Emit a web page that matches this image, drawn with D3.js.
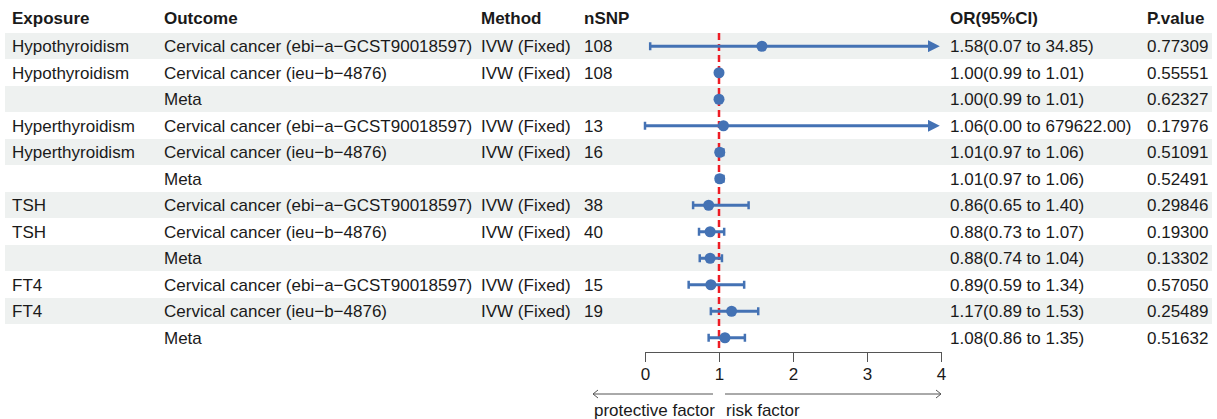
<!DOCTYPE html>
<html>
<head>
<meta charset="utf-8">
<script src="https://cdn.jsdelivr.net/npm/d3@7"></script>
<style>
  body { margin: 0; background: #fff; }
  svg { font-family: "Liberation Sans", Arial, sans-serif; }
</style>
</head>
<body>
<div id="chart"></div>
<script>
// Table columns, one entry per row
const exposures = ['Hypothyroidism', 'Hypothyroidism', '', 'Hyperthyroidism', 'Hyperthyroidism', '',
                   'TSH', 'TSH', '', 'FT4', 'FT4', ''];
const outcomes = ['Cervical cancer (ebi\u2212a\u2212GCST90018597)', 'Cervical cancer (ieu\u2212b\u22124876)', 'Meta',
                  'Cervical cancer (ebi\u2212a\u2212GCST90018597)', 'Cervical cancer (ieu\u2212b\u22124876)', 'Meta',
                  'Cervical cancer (ebi\u2212a\u2212GCST90018597)', 'Cervical cancer (ieu\u2212b\u22124876)', 'Meta',
                  'Cervical cancer (ebi\u2212a\u2212GCST90018597)', 'Cervical cancer (ieu\u2212b\u22124876)', 'Meta'];
const methods = ['IVW (Fixed)', 'IVW (Fixed)', '', 'IVW (Fixed)', 'IVW (Fixed)', '',
                 'IVW (Fixed)', 'IVW (Fixed)', '', 'IVW (Fixed)', 'IVW (Fixed)', ''];
const nsnp = ['108', '108', '', '13', '16', '', '38', '40', '', '15', '19', ''];
const orValues = [1.58, 1.00, 1.00, 1.06, 1.01, 1.01, 0.86, 0.88, 0.88, 0.89, 1.17, 1.08];
const lowerCI = [0.07, 0.99, 0.99, 0.00, 0.97, 0.97, 0.65, 0.73, 0.74, 0.59, 0.89, 0.86];
const upperCI = [34.85, 1.01, 1.01, 679622.00, 1.06, 1.06, 1.40, 1.07, 1.04, 1.34, 1.53, 1.35];
const orLabels = ['1.58(0.07 to 34.85)', '1.00(0.99 to 1.01)', '1.00(0.99 to 1.01)', '1.06(0.00 to 679622.00)',
                  '1.01(0.97 to 1.06)', '1.01(0.97 to 1.06)', '0.86(0.65 to 1.40)', '0.88(0.73 to 1.07)',
                  '0.88(0.74 to 1.04)', '0.89(0.59 to 1.34)', '1.17(0.89 to 1.53)', '1.08(0.86 to 1.35)'];
const pValues = ['0.77309', '0.55551', '0.62327', '0.17976', '0.51091', '0.52491',
                 '0.29846', '0.19300', '0.13302', '0.57050', '0.25489', '0.51632'];
const headers = ['Exposure', 'Outcome', 'Method', 'nSNP', 'OR(95%CI)', 'P.value'];
const axisTicks = [0, 1, 2, 3, 4];

const W = 1217, H = 419;
const colX = [12, 164, 481, 584, 950, 1147];
const blue = '#4472b4';
const textCol = '#1a1a1a';
const fs = '17px';

const svg = d3.select('#chart').append('svg')
    .attr('width', W).attr('height', H);

const rows = d3.range(orValues.length);
const y = d3.scaleBand().domain(rows).range([33, 33 + rows.length * 26.5]);
const x = d3.scaleLinear().domain([0, 4]).range([645, 941]);

// Zebra bands
svg.selectAll('rect.band')
    .data(rows.filter(i => i % 2 === 0))
    .enter().append('rect')
    .attr('x', 5).attr('width', W - 10)
    .attr('y', i => y(i)).attr('height', y.bandwidth() - 0.5)
    .attr('fill', '#eef1f0');

// Header
svg.selectAll('text.header')
    .data(headers)
    .enter().append('text')
    .attr('x', (d, i) => colX[i]).attr('y', 24)
    .style('font-size', fs).style('font-weight', 'bold')
    .attr('fill', textCol)
    .text(d => d);

// Table cells
const cols = [exposures, outcomes, methods, nsnp, orLabels, pValues];
cols.forEach((col, c) => {
    svg.selectAll(null)
        .data(col)
        .enter().append('text')
        .attr('x', colX[c])
        .attr('y', (d, i) => y(i) + y.bandwidth() / 2)
        .attr('dy', '0.36em')
        .style('font-size', fs)
        .attr('fill', textCol)
        .text(d => d);
});

// Reference line at OR = 1
svg.append('line')
    .attr('x1', x(1)).attr('x2', x(1))
    .attr('y1', y(0)).attr('y2', y.range()[1])
    .attr('stroke', '#ee1c25').attr('stroke-width', 2.5)
    .attr('stroke-dasharray', '7,4');

// Arrowhead marker
svg.append('defs').append('marker')
    .attr('id', 'arrow')
    .attr('viewBox', '0 0 10 10')
    .attr('refX', 6).attr('refY', 5)
    .attr('markerWidth', 4).attr('markerHeight', 4)
    .attr('orient', 'auto')
    .append('path').attr('d', 'M0,0L10,5L0,10Z').attr('fill', blue);

// CI lines
const lo = i => Math.max(lowerCI[i], 0);
const hi = i => Math.min(upperCI[i], 4);
const ci = svg.append('g');
ci.selectAll('line.ci')
    .data(rows)
    .enter().append('line')
    .attr('x1', i => x(lo(i)))
    .attr('x2', i => upperCI[i] > 4 ? x(4) - 6 : x(hi(i)))
    .attr('y1', i => y(i) + y.bandwidth() / 2)
    .attr('y2', i => y(i) + y.bandwidth() / 2)
    .attr('stroke', blue).attr('stroke-width', 3)
    .attr('marker-end', i => upperCI[i] > 4 ? 'url(#arrow)' : null);

// Caps
const caps = [];
rows.forEach(i => {
    caps.push({ i, v: lo(i) });
    if (upperCI[i] <= 4) caps.push({ i, v: hi(i) });
});
ci.selectAll('line.cap')
    .data(caps)
    .enter().append('line')
    .attr('x1', d => x(d.v)).attr('x2', d => x(d.v))
    .attr('y1', d => y(d.i) + y.bandwidth() / 2 - 4)
    .attr('y2', d => y(d.i) + y.bandwidth() / 2 + 4)
    .attr('stroke', blue).attr('stroke-width', 2.5);

// Point estimates
ci.selectAll('circle')
    .data(rows)
    .enter().append('circle')
    .attr('cx', i => x(orValues[i]))
    .attr('cy', i => y(i) + y.bandwidth() / 2)
    .attr('r', 5.5)
    .attr('fill', blue);

// Axis
const axisG = svg.append('g')
    .attr('transform', `translate(0,${y.range()[1] + 1})`)
    .call(d3.axisBottom(x).tickValues(axisTicks).tickFormat(d3.format('d'))
        .tickSize(10).tickSizeOuter(0));
axisG.selectAll('path, line').attr('stroke', '#555');
axisG.selectAll('text')
    .style('font-size', fs)
    .style('font-family', '"Liberation Sans", Arial, sans-serif')
    .attr('fill', textCol)
    .attr('y', 16);

// Direction arrows
const arrowY = 394;
const dirG = svg.append('g').attr('stroke', '#555').attr('fill', 'none').attr('stroke-width', 1);
dirG.append('line').attr('x1', 593).attr('x2', 713).attr('y1', arrowY).attr('y2', arrowY);
dirG.append('path').attr('d', `M${598},${arrowY - 4}L${593},${arrowY}L${598},${arrowY + 4}`);
dirG.append('line').attr('x1', 725).attr('x2', x(4)).attr('y1', arrowY).attr('y2', arrowY);
dirG.append('path').attr('d', `M${x(4) - 5},${arrowY - 4}L${x(4)},${arrowY}L${x(4) - 5},${arrowY + 4}`);

svg.append('text').attr('x', 594).attr('y', 416)
    .style('font-size', fs).attr('fill', textCol).text('protective factor');
svg.append('text').attr('x', 726).attr('y', 416)
    .style('font-size', fs).attr('fill', textCol).text('risk factor');
</script>
</body>
</html>
